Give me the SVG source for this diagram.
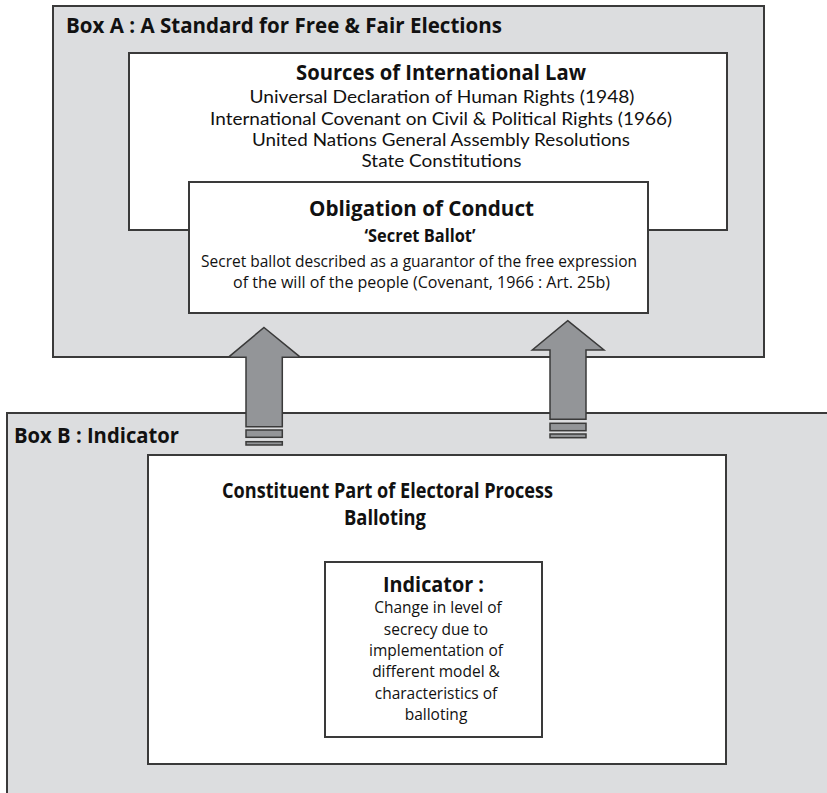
<svg xmlns="http://www.w3.org/2000/svg" width="827" height="793" viewBox="0 0 827 793">
  <style>
    .panel { fill: #dcdddf; stroke: #3a3a3a; stroke-width: 2; }
    .card { fill: #ffffff; stroke: #3a3a3a; stroke-width: 2; }
    .arrow { fill: #939598; stroke: #3a3a3a; stroke-width: 1.5; stroke-linejoin: miter; }
    text { font-family: "Open Sans", "Noto Sans", "Liberation Sans", sans-serif; fill: #111; }
    .head { font-weight: bold; font-size: 21px; }
    .sub { font-weight: bold; font-size: 18px; }
    .body { font-family: Lato, "Open Sans", "Liberation Sans", sans-serif; font-size: 17.5px; }
    .small { font-size: 15.5px; }
    .mid { text-anchor: middle; }
  </style>

  <!-- Box A: standard for free and fair elections -->
  <g id="boxA">
    <rect class="panel" x="53" y="6" width="711" height="351"/>
    <text class="head" x="66" y="33" textLength="436" lengthAdjust="spacingAndGlyphs">Box A : A Standard for Free &amp; Fair Elections</text>
  </g>

  <g id="sources">
    <rect class="card" x="129" y="53" width="598" height="177"/>
    <text class="head mid" x="441" y="80" textLength="290" lengthAdjust="spacingAndGlyphs">Sources of International Law</text>
    <text class="body mid" x="442" y="103" textLength="385" lengthAdjust="spacingAndGlyphs">Universal Declaration of Human Rights (1948)</text>
    <text class="body mid" x="441" y="124.5" textLength="462" lengthAdjust="spacingAndGlyphs">International Covenant on Civil &amp; Political Rights (1966)</text>
    <text class="body mid" x="441" y="146" textLength="378" lengthAdjust="spacingAndGlyphs">United Nations General Assembly Resolutions</text>
    <text class="body mid" x="441.5" y="167" textLength="160" lengthAdjust="spacingAndGlyphs">State Constitutions</text>
  </g>

  <g id="obligation">
    <rect class="card" x="189" y="182" width="459" height="131"/>
    <text class="head mid" x="421.5" y="216" textLength="225" lengthAdjust="spacingAndGlyphs">Obligation of Conduct</text>
    <text class="sub mid" x="420" y="242" textLength="111" lengthAdjust="spacingAndGlyphs">‘Secret Ballot’</text>
    <text class="small mid" x="419" y="266.5" textLength="436" lengthAdjust="spacingAndGlyphs">Secret ballot described as a guarantor of the free expression</text>
    <text class="small mid" x="421.5" y="287.5" textLength="377" lengthAdjust="spacingAndGlyphs">of the will of the people (Covenant, 1966 : Art. 25b)</text>
  </g>

  <!-- Box B: indicator -->
  <g id="boxB">
    <rect class="panel" x="7" y="413" width="830" height="400"/>
    <text class="head" x="14" y="443" textLength="165" lengthAdjust="spacingAndGlyphs">Box B : Indicator</text>
  </g>

  <g id="constituent">
    <rect class="card" x="148" y="455" width="578" height="309"/>
    <text class="head mid" x="387.5" y="498" font-size="25" textLength="331" lengthAdjust="spacingAndGlyphs">Constituent Part of Electoral Process</text>
    <text class="head mid" x="385" y="525" font-size="25" textLength="82" lengthAdjust="spacingAndGlyphs">Balloting</text>
  </g>

  <g id="indicator">
    <rect class="card" x="325" y="562" width="217" height="175"/>
    <text class="head mid" x="433.5" y="592" textLength="101" lengthAdjust="spacingAndGlyphs">Indicator :</text>
    <text class="small mid" x="438" y="613">Change in level of</text>
    <text class="small mid" x="436" y="635">secrecy due to</text>
    <text class="small mid" x="436" y="656">implementation of</text>
    <text class="small mid" x="436" y="677">different model &amp;</text>
    <text class="small mid" x="436" y="699">characteristics of</text>
    <text class="small mid" x="436" y="720">balloting</text>
  </g>

  <!-- Block arrows from Box B up into Box A -->
  <g id="connectors">
    <polygon class="arrow" points="264,327.5 300.5,357.3 282.3,357.3 282.3,426.7 246,426.7 246,357.3 228.3,357.3"/>
    <rect class="arrow" x="246" y="430" width="36.3" height="7.3"/>
    <rect class="arrow" x="246" y="441.7" width="36.3" height="3.3"/>
    <polygon class="arrow" points="567.7,320.7 604,350 586,350 586,419.3 550,419.3 550,350 532.3,350"/>
    <rect class="arrow" x="550" y="423.3" width="36" height="7.4"/>
    <rect class="arrow" x="550" y="434" width="36" height="3.7"/>
  </g>
</svg>
